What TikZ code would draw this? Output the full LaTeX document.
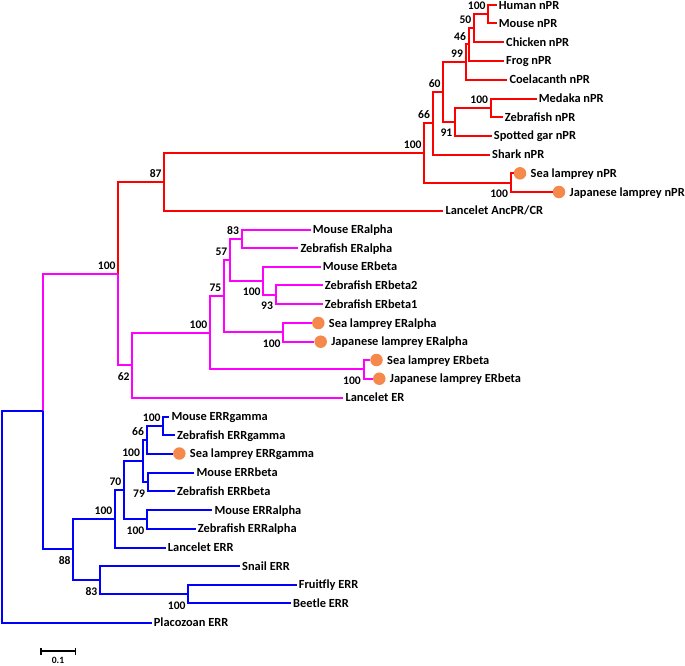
\documentclass[tikz,border=0pt]{standalone}
\usepackage{fontspec}
\setmainfont{Carlito}
\usetikzlibrary{arrows.meta,positioning}
\definecolor{treeRed}{HTML}{FF0000}
\definecolor{treeMag}{HTML}{FF00FF}
\definecolor{treeBlue}{HTML}{0000FF}
\definecolor{lampDot}{HTML}{F5894B}
\tikzset{
    % leaf labels and bootstrap values
    leaf/.style={anchor=west,inner xsep=2pt,inner ysep=0pt,text height=9pt,text depth=1pt,font=\fontsize{12.4}{14}\selectfont\bfseries},
    boot/.style={inner sep=0pt,font=\fontsize{11.6}{13}\selectfont\bfseries},
    bootup/.style={boot,anchor=south east,xshift=-2.5pt,yshift=4pt},
    bootdown/.style={boot,anchor=north east,xshift=-2.5pt,yshift=-7.3pt},
    lamprey/.style={circle,fill=lampDot,inner sep=0pt,minimum size=12.5pt},
    % branch styles
    redbranch/.style={draw=treeRed,line width=2pt},
    magbranch/.style={draw=treeMag,line width=2pt},
    bluebranch/.style={draw=treeBlue,line width=2pt}
}

\begin{document}
\begin{tikzpicture}[x=1pt,y=-1pt]
\useasboundingbox (0,0) rectangle (685,665);

% Red clade leaves (nPR)
\node[leaf] at (496.7,5) (human_npr) {Human nPR};
\node[leaf] at (496.7,23.3) (mouse_npr) {Mouse nPR};
\node[leaf] at (504,42) (chicken_npr) {Chicken nPR};
\node[leaf] at (504,60.7) (frog_npr) {Frog nPR};
\node[leaf] at (507.3,79.5) (coel_npr) {Coelacanth nPR};
\node[leaf] at (536.7,98.5) (medaka_npr) {Medaka nPR};
\node[leaf] at (502.7,117) (zfish_npr) {Zebrafish nPR};
\node[leaf] at (491.7,135.7) (gar_npr) {Spotted gar nPR};
\node[leaf] at (490,154.5) (shark_npr) {Shark nPR};
\node[lamprey] at (520,173.3) (sea_npr_dot) {};
\node[leaf,right=2pt of sea_npr_dot] (sea_npr) {Sea lamprey nPR};
\node[lamprey] at (559,192) (jap_npr_dot) {};
\node[leaf,right=2pt of jap_npr_dot] (jap_npr) {Japanese lamprey nPR};
\node[leaf] at (443.3,210.8) (lancelet_pr) {Lancelet AncPR/CR};

% Magenta clade leaves (ER)
\node[leaf] at (310.7,229.5) (mouse_era) {Mouse ERalpha};
\node[leaf] at (298.3,248) (zfish_era) {Zebrafish ERalpha};
\node[leaf] at (320.7,266.7) (mouse_erb) {Mouse ERbeta};
\node[leaf] at (322.7,285.3) (zfish_erb2) {Zebrafish ERbeta2};
\node[leaf] at (322.7,304) (zfish_erb1) {Zebrafish ERbeta1};
\node[lamprey] at (318.3,323) (sea_era_dot) {};
\node[leaf,right=2pt of sea_era_dot] (sea_era) {Sea lamprey ERalpha};
\node[lamprey] at (320.7,341.7) (jap_era_dot) {};
\node[leaf,right=2pt of jap_era_dot] (jap_era) {Japanese lamprey ERalpha};
\node[lamprey] at (376.5,360) (sea_erb_dot) {};
\node[leaf,right=2pt of sea_erb_dot] (sea_erb) {Sea lamprey ERbeta};
\node[lamprey] at (379.3,378.7) (jap_erb_dot) {};
\node[leaf,right=2pt of jap_erb_dot] (jap_erb) {Japanese lamprey ERbeta};
\node[leaf] at (343.3,397.5) (lancelet_er) {Lancelet ER};

% Blue clade leaves (ERR)
\node[leaf] at (169.3,416.5) (mouse_errg) {Mouse ERRgamma};
\node[leaf] at (175,435) (zfish_errg) {Zebrafish ERRgamma};
\node[lamprey] at (179.3,453.5) (sea_errg_dot) {};
\node[leaf,right=2pt of sea_errg_dot] (sea_errg) {Sea lamprey ERRgamma};
\node[leaf] at (194.3,472.5) (mouse_errb) {Mouse ERRbeta};
\node[leaf] at (175,491.3) (zfish_errb) {Zebrafish ERRbeta};
\node[leaf] at (212.3,510) (mouse_erra) {Mouse ERRalpha};
\node[leaf] at (195.7,528.7) (zfish_erra) {Zebrafish ERRalpha};
\node[leaf] at (165.7,547.5) (lancelet_err) {Lancelet ERR};
\node[leaf] at (240,566) (snail_err) {Snail ERR};
\node[leaf] at (296.7,584.7) (fly_err) {Fruitfly ERR};
\node[leaf] at (291,603.3) (beetle_err) {Beetle ERR};
\node[leaf] at (151.7,622.5) (placo_err) {Placozoan ERR};

% Internal nodes
\coordinate (n_hm) at (488.3,14.15);
\coordinate (n_hmc) at (474,28.1);
\coordinate (n_hmcf) at (468.7,44.4);
\coordinate (n_tet) at (465.7,61.95);
\coordinate (n_mz) at (490.7,107.75);
\coordinate (n_tel) at (455,121.7);
\coordinate (n_ost) at (443.3,91.8);
\coordinate (n_gna) at (432.7,123.15);
\coordinate (n_lamp) at (510.7,182.65);
\coordinate (n_vert) at (424.3,152.9);
\coordinate (n_pr) at (164.3,181.85);
\coordinate (n_era) at (241.7,238.75);
\coordinate (n_erb2) at (275.7,294.65);
\coordinate (n_erb) at (263.3,280.7);
\coordinate (n_erab) at (230,259.7);
\coordinate (n_lera) at (283.3,332.35);
\coordinate (n_gera) at (224,296);
\coordinate (n_lerb) at (363.5,369.35);
\coordinate (n_ver) at (210,332.7);
\coordinate (n_er) at (132.3,365.1);
\coordinate (n_sr) at (118.3,273.5);
\coordinate (n_errg2) at (163.3,425.75);
\coordinate (n_errg) at (146.7,439.6);
\coordinate (n_errb) at (147.7,481.9);
\coordinate (n_errgb) at (142.7,460.75);
\coordinate (n_erra) at (147,519.35);
\coordinate (n_errv) at (124,490.05);
\coordinate (n_errc) at (115,518.8);
\coordinate (n_fb) at (188.3,594);
\coordinate (n_prot) at (100,580);
\coordinate (n_bil) at (73.3,549.4);
\coordinate (n_sre) at (42.7,411.45);
\coordinate (n_root) at (2,516.95);

% Red branches
\draw[redbranch] (n_hm) |- (human_npr.west) (n_hm) |- (mouse_npr.west);
\draw[redbranch] (n_hmc) |- (n_hm) (n_hmc) |- (chicken_npr.west);
\draw[redbranch] (n_hmcf) |- (n_hmc) (n_hmcf) |- (frog_npr.west);
\draw[redbranch] (n_tet) |- (n_hmcf) (n_tet) |- (coel_npr.west);
\draw[redbranch] (n_mz) |- (medaka_npr.west) (n_mz) |- (zfish_npr.west);
\draw[redbranch] (n_tel) |- (n_mz) (n_tel) |- (gar_npr.west);
\draw[redbranch] (n_ost) |- (n_tet) (n_ost) |- (n_tel);
\draw[redbranch] (n_gna) |- (n_ost) (n_gna) |- (shark_npr.west);
\draw[redbranch] (n_lamp) |- (sea_npr_dot.west) (n_lamp) |- (jap_npr_dot.west);
\draw[redbranch] (n_vert) |- (n_gna) (n_vert) |- (n_lamp);
\draw[redbranch] (n_pr) |- (n_vert) (n_pr) |- (lancelet_pr.west);
\draw[redbranch] (n_sr) |- (n_pr);

% Magenta branches
\draw[magbranch] (n_era) |- (mouse_era.west) (n_era) |- (zfish_era.west);
\draw[magbranch] (n_erb2) |- (zfish_erb2.west) (n_erb2) |- (zfish_erb1.west);
\draw[magbranch] (n_erb) |- (mouse_erb.west) (n_erb) |- (n_erb2);
\draw[magbranch] (n_erab) |- (n_era) (n_erab) |- (n_erb);
\draw[magbranch] (n_lera) |- (sea_era_dot.west) (n_lera) |- (jap_era_dot.west);
\draw[magbranch] (n_gera) |- (n_erab) (n_gera) |- (n_lera);
\draw[magbranch] (n_lerb) |- (sea_erb_dot.west) (n_lerb) |- (jap_erb_dot.west);
\draw[magbranch] (n_ver) |- (n_gera) (n_ver) |- (n_lerb);
\draw[magbranch] (n_er) |- (n_ver) (n_er) |- (lancelet_er.west);
\draw[magbranch] (n_sr) |- (n_er);
\draw[magbranch] (n_sre) |- (n_sr);

% Blue branches
\draw[bluebranch] (n_errg2) |- (mouse_errg.west) (n_errg2) |- (zfish_errg.west);
\draw[bluebranch] (n_errg) |- (n_errg2) (n_errg) |- (sea_errg_dot.west);
\draw[bluebranch] (n_errb) |- (mouse_errb.west) (n_errb) |- (zfish_errb.west);
\draw[bluebranch] (n_errgb) |- (n_errg) (n_errgb) |- (n_errb);
\draw[bluebranch] (n_erra) |- (mouse_erra.west) (n_erra) |- (zfish_erra.west);
\draw[bluebranch] (n_errv) |- (n_errgb) (n_errv) |- (n_erra);
\draw[bluebranch] (n_errc) |- (n_errv) (n_errc) |- (lancelet_err.west);
\draw[bluebranch] (n_fb) |- (fly_err.west) (n_fb) |- (beetle_err.west);
\draw[bluebranch] (n_prot) |- (snail_err.west) (n_prot) |- (n_fb);
\draw[bluebranch] (n_bil) |- (n_errc) (n_bil) |- (n_prot);
\draw[bluebranch] (n_sre) |- (n_bil);
\draw[bluebranch] (n_root) |- (n_sre) (n_root) |- (placo_err.west);

% Bootstrap values
\node[bootup] at (n_hm) (b_hm) {100};
\node[bootup] at (n_hmc) (b_hmc) {50};
\node[bootup] at (n_hmcf) (b_hmcf) {46};
\node[bootup] at (n_tet) (b_tet) {99};
\node[bootup] at (n_mz) (b_mz) {100};
\node[bootdown] at (n_tel) (b_tel) {91};
\node[bootup] at (n_ost) (b_ost) {60};
\node[bootup] at (n_gna) (b_gna) {66};
\node[bootdown] at (n_lamp) (b_lamp) {100};
\node[bootup] at (n_vert) (b_vert) {100};
\node[bootup] at (n_pr) (b_pr) {87};
\node[bootup] at (n_era) (b_era) {83};
\node[bootdown] at (n_erb2) (b_erb2) {93};
\node[bootdown] at (n_erb) (b_erb) {100};
\node[bootup] at (n_erab) (b_erab) {57};
\node[bootdown] at (n_lera) (b_lera) {100};
\node[bootup] at (n_gera) (b_gera) {75};
\node[bootdown] at (n_lerb) (b_lerb) {100};
\node[bootup] at (n_ver) (b_ver) {100};
\node[bootdown] at (n_er) (b_er) {62};
\node[bootup] at (n_sr) (b_sr) {100};
\node[bootup] at (n_errg2) (b_errg2) {100};
\node[bootup] at (n_errg) (b_errg) {66};
\node[bootdown] at (n_errb) (b_errb) {79};
\node[bootup] at (n_errgb) (b_errgb) {100};
\node[bootdown] at (n_erra) (b_erra) {100};
\node[bootup] at (n_errv) (b_errv) {70};
\node[bootup] at (n_errc) (b_errc) {100};
\node[bootdown] at (n_fb) (b_fb) {100};
\node[bootdown] at (n_prot) (b_prot) {83};
\node[bootdown] at (n_bil) (b_bil) {88};

% Scale bar
\coordinate (bar_l) at (40,651);
\coordinate (bar_r) at (76,651);
\draw[line width=1.5pt,{Bar[width=7pt]}-{Bar[width=7pt]}] (bar_l) -- (bar_r);
\node[inner sep=0pt,font=\fontsize{9.6}{11}\selectfont\bfseries] at (58,660.7) (bar_lbl) {0.1};

\end{tikzpicture}
\end{document}
